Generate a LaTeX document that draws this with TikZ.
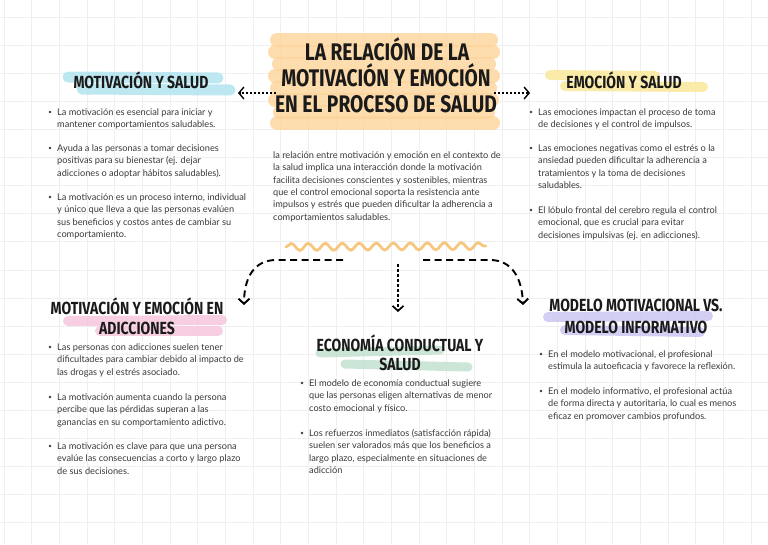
\documentclass[tikz,border=0pt]{standalone}
\usepackage{fontspec}
\usetikzlibrary{arrows.meta,decorations.pathmorphing}
\newfontfamily\headfont{Fira Sans}[FakeStretch=0.8]
\newfontfamily\bodyfont{Lato}
\definecolor{gridc}{HTML}{EFEFEF}
\definecolor{txt}{HTML}{3A3A3A}
\definecolor{headc}{HTML}{1A1A1A}
\definecolor{titleor}{HTML}{FDD49A}
\definecolor{squig}{HTML}{F8C172}
\definecolor{hlblue}{HTML}{AEE3EE}
\definecolor{hlyellow}{HTML}{FBE693}
\definecolor{hlpink}{HTML}{F7C3DB}
\definecolor{hlgreen}{HTML}{BFE0CC}
\definecolor{hllav}{HTML}{C8C3F2}
\tikzset{
  titletext/.style={font=\headfont\bfseries\fontsize{24}{26}\selectfont, text=headc, inner sep=0pt, anchor=base},
  headtext/.style={font=\headfont\bfseries\fontsize{17.5}{20}\selectfont, text=headc, inner sep=0pt, anchor=base, align=center},
  bodytext/.style={font=\bodyfont\fontsize{9.2}{12.4}\selectfont, text=txt, inner sep=0pt, anchor=north west, align=left},
  bulletdot/.style={circle, fill=txt, inner sep=0pt, minimum size=2.6pt},
  hl/.style={line width=#1, line cap=round, opacity=0.8},
  dasharrow/.style={line width=1.9pt, dash pattern=on 7pt off 4.5pt, -{Straight Barb[length=5pt,width=11pt]}},
  dotarrow/.style={line width=1.7pt, dash pattern=on 2.5pt off 2.5pt, -{Straight Barb[length=5pt,width=11pt]}},
  sidearrow/.style={line width=1.4pt, dash pattern=on 2pt off 2pt, -{Straight Barb[length=5pt,width=12pt]}},
}
\newcommand\itemat[4]{%
  \node[bulletdot] (#3b) at (#1-7,#2-3) {};
  \node[bodytext] (#3) at (#1,#2-9) {\rule{0pt}{9pt}#4};}
\begin{document}
\begin{tikzpicture}[x=1pt,y=-1pt]
\useasboundingbox (0,0) rectangle (768,544);
\fill[white] (0,0) rectangle (768,544);
% grid
\foreach \i in {0,...,27} {\draw[gridc, line width=0.8pt] ({4+27.67*\i},0) -- ({4+27.67*\i},544);}
\foreach \j in {0,...,19} {\draw[gridc, line width=0.8pt] (0,{17+28.1*\j}) -- (768,{17+28.1*\j});}

% title highlight
\begin{scope}[titleor, hl=14pt]
\draw (277,40) -- (491,40);
\draw (275,52) -- (493,52);
\draw (279,64) -- (489,64);
\draw (275,76) -- (493,76);
\draw (277,88) -- (490,88);
\draw (275,100) -- (492,100);
\draw (280,112) -- (488,112);
\draw (277,123) -- (493,123);
\end{scope}
\node[titletext] (t1) at (387,60) {LA RELACIÓN DE LA};
\node[titletext] (t2) at (386,86) {MOTIVACIÓN Y EMOCIÓN};
\node[titletext] (t3) at (386,112) {EN EL PROCESO DE SALUD};
\coordinate (tl) at (276,93);
\coordinate (tr) at (494,93);

% heading highlights
\begin{scope}[hlblue, hl=11pt]
\draw (68,77) -- (218,78);
\draw (82,89) -- (230,90);
\end{scope}
\begin{scope}[hlyellow, hl=10pt]
\draw (550,75) -- (655,76);
\draw (565,86) -- (703,87);
\end{scope}
\begin{scope}[hlpink, hl=10pt]
\draw (68,321) -- (222,320);
\draw (100,331) -- (218,331);
\end{scope}
\begin{scope}[hlgreen, hl=9pt]
\draw (320,353) -- (440,350);
\draw (345,364) -- (468,367);
\end{scope}
\begin{scope}[hllav, hl=10pt]
\draw (548,317) -- (708,316);
\draw (565,330) -- (700,332);
\end{scope}

% headings
\node[headtext] (h1) at (141,88) {MOTIVACIÓN Y SALUD};
\node[headtext] (h2) at (624,88) {EMOCIÓN Y SALUD};
\node[headtext] (h3a) at (137,314) {MOTIVACIÓN Y EMOCIÓN EN};
\node[headtext] (h3b) at (137,334) {ADICCIONES};
\node[headtext] (h4a) at (400,351) {ECONOMÍA CONDUCTUAL Y};
\node[headtext] (h4b) at (400,370) {SALUD};
\node[headtext] (h5a) at (636,311) {MODELO MOTIVACIONAL VS.};
\node[headtext] (h5b) at (636,333) {MODELO INFORMATIVO};

% side arrows
\coordinate (la) at (238,93);
\coordinate (ra) at (530,93);
\draw[sidearrow] (tl) -- (la);
\draw[sidearrow] (tr) -- (ra);

% left column
\itemat{57}{115}{a1}{La motivación es esencial para iniciar y\\mantener comportamientos saludables.}
\itemat{57}{151}{a2}{Ayuda a las personas a tomar decisiones\\positivas para su bienestar (ej. dejar\\adicciones o adoptar hábitos saludables).}
\itemat{57}{200}{a3}{La motivación es un proceso interno, individual\\y único que lleva a que las personas evalúen\\sus beneficios y costos antes de cambiar su\\comportamiento.}

% right column
\itemat{538}{115}{b1}{Las emociones impactan el proceso de toma\\de decisiones y el control de impulsos.}
\itemat{538}{151}{b2}{Las emociones negativas como el estrés o la\\ansiedad pueden dificultar la adherencia a\\tratamientos y la toma de decisiones\\saludables.}
\itemat{538}{213}{b3}{El lóbulo frontal del cerebro regula el control\\emocional, que es crucial para evitar\\decisiones impulsivas (ej. en adicciones).}

% centre paragraph
\node[bodytext] (para) at (273,149) {\rule{0pt}{9pt}la relación entre motivación y emoción en el contexto de\\la salud implica una interacción donde la motivación\\facilita decisiones conscientes y sostenibles, mientras\\que el control emocional soporta la resistencia ante\\impulsos y estrés que pueden dificultar la adherencia a\\comportamientos saludables.};

% squiggle
\draw[squig, line width=2.8pt, line cap=round, opacity=0.9, decorate, decoration={snake, segment length=17pt, amplitude=3.5pt}] (286,247) -- (486,246);
\coordinate (sq) at (386,247);

% branch arrows
\coordinate (d1s) at (343,260);
\coordinate (d1e) at (244,305);
\coordinate (d2s) at (398,264);
\coordinate (d2e) at (398,312);
\coordinate (d3s) at (423,260);
\coordinate (d3e) at (523,305);
\draw[dasharrow] (d1s) -- (276,260) .. controls (254,260) and (244,278) .. (d1e);
\draw[dotarrow] (d2s) -- (d2e);
\draw[dasharrow] (d3s) -- (490,260) .. controls (512,260) and (522,278) .. (d3e);

% bottom left
\itemat{57}{350}{c1}{Las personas con adicciones suelen tener\\dificultades para cambiar debido al impacto de\\las drogas y el estrés asociado.}
\itemat{57}{400}{c2}{La motivación aumenta cuando la persona\\percibe que las pérdidas superan a las\\ganancias en su comportamiento adictivo.}
\itemat{57}{449}{c3}{La motivación es clave para que una persona\\evalúe las consecuencias a corto y largo plazo\\de sus decisiones.}

% bottom middle
\itemat{309}{386}{e1}{El modelo de economía conductual sugiere\\que las personas eligen alternativas de menor\\costo emocional y físico.}
\itemat{309}{436}{e2}{Los refuerzos inmediatos (satisfacción rápida)\\suelen ser valorados más que los beneficios a\\largo plazo, especialmente en situaciones de\\adicción}

% bottom right
\itemat{548}{357}{f1}{En el modelo motivacional, el profesional\\estimula la autoeficacia y favorece la reflexión.}
\itemat{548}{394}{f2}{En el modelo informativo, el profesional actúa\\de forma directa y autoritaria, lo cual es menos\\eficaz en promover cambios profundos.}
\end{tikzpicture}
\end{document}
